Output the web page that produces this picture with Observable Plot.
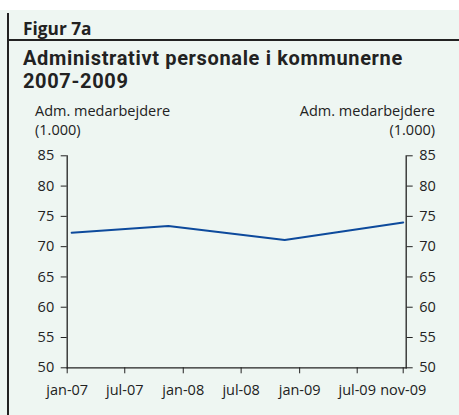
<!DOCTYPE html>
<html>
<head>
<meta charset="utf-8">
<script src="https://cdn.jsdelivr.net/npm/d3@7"></script>
<script src="https://cdn.jsdelivr.net/npm/@observablehq/plot@0.6"></script>
<style>
  html, body { margin: 0; padding: 0; background: #ffffff; }
  #panel { position: absolute; left: 0; top: 10px; width: 459px; height: 405px; background: #eef6f2; font-family: "Open Sans", sans-serif; color: #222; }
  #vline { position: absolute; left: 7px; top: 3px; width: 2px; height: 402px; background: #222; }
  #hline { position: absolute; left: 8px; top: 29px; width: 451px; height: 2px; background: #222; }
  #fig { position: absolute; left: 23px; top: 7.5px; font-weight: bold; font-size: 17.3px; line-height: 22px; }
  .title { position: absolute; left: 23px; font-family: Roboto, sans-serif; font-weight: bold; font-size: 20px; line-height: 20px; letter-spacing: 0.65px; white-space: nowrap; }
  #t1 { top: 37.5px; }
  #t2 { top: 60.5px; }
  .ylab { position: absolute; font-size: 14.5px; line-height: 19.3px; }
  #ylabL { left: 35px; top: 90.6px; }
  #ylabR { right: 24px; top: 90.6px; text-align: right; }
  #chart { position: absolute; left: 0; top: 130px; }
</style>
</head>
<body>
<div id="panel">
  <div id="vline"></div>
  <div id="hline"></div>
  <div id="fig">Figur 7a</div>
  <div class="title" id="t1">Administrativt personale i kommunerne</div>
  <div class="title" id="t2">2007-2009</div>
  <div class="ylab" id="ylabL">Adm. medarbejdere<br>(1.000)</div>
  <div class="ylab" id="ylabR">Adm. medarbejdere<br>(1.000)</div>
  <div id="chart"></div>
</div>
<script>
const dates = ["2007-01-15", "2007-11-15", "2008-11-15", "2009-11-01"];
const values = [72.3, 73.4, 71.1, 74.0];
const tickDates = ["2007-01-01", "2007-07-01", "2008-01-01", "2008-07-01", "2009-01-01", "2009-07-01", "2009-11-01"];
const tickLabels = ["jan-07", "jul-07", "jan-08", "jul-08", "jan-09", "jul-09", "nov-09"];
const yTicks = [50, 55, 60, 65, 70, 75, 80, 85];

const data = dates.map((d, i) => ({date: new Date(d), value: values[i]}));
const xt = tickDates.map(d => new Date(d));
const labelOf = new Map(xt.map((d, i) => [+d, tickLabels[i]]));

const W = 459, H = 265;
const plot = Plot.plot({
  width: W,
  height: H,
  marginLeft: 66.7,
  marginRight: 53.3,
  marginTop: 15.3,
  marginBottom: 37.7,
  style: {background: "transparent", fontFamily: "'Open Sans', sans-serif", fontSize: "14.5px", color: "#222"},
  x: {type: "utc", domain: [xt[0], xt[5], xt[6]], range: [66.7, 356.7, 402.7]},
  y: {domain: [50, 85]},
  marks: [
    Plot.frame({anchor: "left", stroke: "#222", strokeWidth: 1.3}),
    Plot.frame({anchor: "right", stroke: "#222", strokeWidth: 1.3}),
    Plot.frame({anchor: "bottom", stroke: "#222", strokeWidth: 1.3}),
    Plot.axisY({anchor: "left", ticks: yTicks, tickSize: 6, tickPadding: 7, label: null, stroke: "#222", fontSize: 14.5}),
    Plot.axisY({anchor: "right", ticks: yTicks, tickSize: 6, tickPadding: 7, label: null, stroke: "#222", fontSize: 14.5}),
    Plot.axisX({ticks: xt, tickFormat: d => labelOf.get(+d), tickSize: 6, tickPadding: 11, label: null, stroke: "#222", fontSize: 14.5}),
    Plot.line(data, {x: "date", y: "value", stroke: "#0d4a9c", strokeWidth: 2})
  ]
});
document.getElementById("chart").appendChild(plot);
</script>
</body>
</html>
